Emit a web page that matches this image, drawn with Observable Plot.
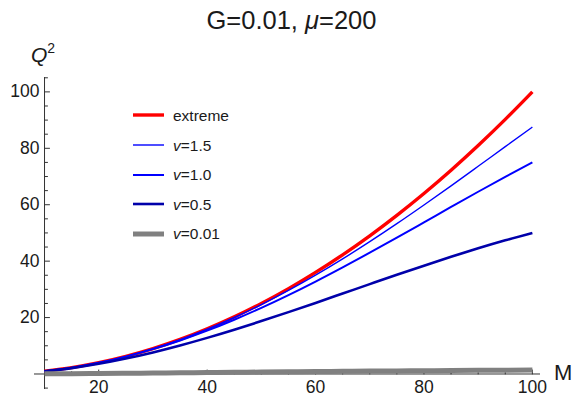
<!DOCTYPE html>
<html><head><meta charset="utf-8">
<script src="https://cdn.jsdelivr.net/npm/d3@7"></script>
<script src="https://cdn.jsdelivr.net/npm/@observablehq/plot@0.6"></script>
<style>
body{margin:0;background:#fff;}
#wrap{position:relative;width:575px;height:396px;font-family:"Liberation Sans",Arial,sans-serif;color:#1a1a1a;overflow:hidden;}
.ov{position:absolute;white-space:nowrap;line-height:1;}
#wrap svg{position:absolute;left:0;top:0;overflow:visible;}
</style></head><body><div id="wrap"></div>
<script>
// ---- data ----
const M       = [10, 15, 20, 25, 30, 35, 40, 45, 50, 55, 60, 65, 70, 75, 80, 85, 90, 95, 100];
const extreme = [1.0, 2.25, 4.0, 6.25, 9.0, 12.25, 16.0, 20.25, 25.0, 30.25, 36.0, 42.25, 49.0, 56.25, 64.0, 72.25, 81.0, 90.25, 100.0];
const v15     = [1.0, 2.25, 4.0, 6.24, 8.97, 12.18, 15.87, 20.02, 24.61, 29.62, 35.03, 40.80, 46.90, 53.28, 59.90, 66.70, 73.62, 80.58, 87.5];
const v10     = [1.0, 2.24, 3.96, 6.15, 8.80, 11.88, 15.36, 19.23, 23.44, 27.96, 32.76, 37.79, 43.0, 48.34, 53.76, 59.20, 64.60, 69.89, 75.0];
const v05     = [0.95, 2.08, 3.6, 5.47, 7.65, 10.11, 12.8, 15.69, 18.75, 21.93, 25.2, 28.52, 31.85, 35.16, 38.4, 41.54, 44.55, 47.38, 50.0];
const v001    = [0.06, 0.11, 0.18, 0.25, 0.34, 0.42, 0.51, 0.60, 0.68, 0.77, 0.86, 0.94, 1.02, 1.09, 1.16, 1.23, 1.29, 1.34, 1.38];
const seriesNames = ["extreme", "v=1.5", "v=1.0", "v=0.5", "v=0.01"];
const seriesValues = [extreme, v15, v10, v05, v001];
const xMajorTicks = [20, 40, 60, 80, 100];
const xMinorTicks = [15, 25, 30, 35, 45, 50, 55, 65, 70, 75, 85, 90, 95];
const yMajorTicks = [20, 40, 60, 80, 100];
const yMinorTicks = [-5, 5, 10, 15, 25, 30, 35, 45, 50, 55, 65, 70, 75, 85, 90, 95, 105];
const xDomain = [8.15, 101.5];
const yDomain = [-5.5, 105.1];

// ---- styles ----
const styles = [
  {stroke: "#ff0000", width: 3.4},
  {stroke: "#0000ff", width: 1.4},
  {stroke: "#0000ff", width: 2.0},
  {stroke: "#0000aa", width: 2.6},
  {stroke: "#808080", width: 5}
];
const axisColor = "#333";
const tickShape = {draw(ctx, l) { ctx.moveTo(0, 0); ctx.lineTo(0, -l); }};

const rows = [];
seriesNames.forEach((s, k) => M.forEach((m, i) => rows.push({M: m, Q2: seriesValues[k][i], s})));

const lineMarks = seriesNames.map((s, k) =>
  Plot.line(rows.filter(d => d.s === s), {
    x: "M", y: "Q2", stroke: styles[k].stroke, strokeWidth: styles[k].width,
    curve: "monotone-x", strokeLinecap: "butt", strokeLinejoin: "round"
  })
);

const chart = Plot.plot({
  width: 575, height: 396,
  marginLeft: 34, marginRight: 35, marginTop: 77, marginBottom: 7,
  x: {domain: xDomain, axis: null},
  y: {domain: yDomain, axis: null},
  style: {fontFamily: "'Liberation Sans', Arial, sans-serif", color: "#1a1a1a", background: "transparent"},
  marks: [
    Plot.ruleY([0], {stroke: axisColor, strokeWidth: 1}),
    Plot.ruleX([M[0]], {stroke: axisColor, strokeWidth: 1}),
    Plot.vector(xMajorTicks, {x: d => d, y: 0, length: 4, rotate: 0, anchor: "start", shape: tickShape, stroke: axisColor, strokeWidth: 1}),
    Plot.vector(xMinorTicks, {x: d => d, y: 0, length: 2.5, rotate: 0, anchor: "start", shape: tickShape, stroke: axisColor, strokeWidth: 1}),
    Plot.vector(yMajorTicks, {x: M[0], y: d => d, length: 5, rotate: 90, anchor: "start", shape: tickShape, stroke: axisColor, strokeWidth: 1}),
    Plot.vector(yMinorTicks, {x: M[0], y: d => d, length: 3, rotate: 90, anchor: "start", shape: tickShape, stroke: axisColor, strokeWidth: 1}),
    Plot.text(xMajorTicks, {x: d => d, y: 0, text: d => String(d), dy: 13, fontSize: 17.5, fill: "#1a1a1a"}),
    Plot.text(yMajorTicks, {x: M[0], y: d => d, text: d => String(d), dx: -5, textAnchor: "end", fontSize: 17.5, fill: "#1a1a1a"}),
    ...lineMarks
  ]
});
const wrap = document.getElementById("wrap");
wrap.appendChild(chart);

function ov(html, css) {
  const d = document.createElement("div");
  d.className = "ov";
  d.innerHTML = html;
  Object.assign(d.style, css);
  wrap.appendChild(d);
}
// title and axis labels
ov("G=0.01, <i>μ</i>=200", {left: "4px", width: "575px", textAlign: "center", top: "8px", fontSize: "25.5px"});
ov("<i>Q</i><sup style='font-size:14px;vertical-align:0;position:relative;top:-9px'>2</sup>", {left: "31px", top: "44px", fontSize: "21px"});
ov("M", {left: "554px", top: "362px", fontSize: "22px"});

// legend
const legendLabels = ["extreme", "<i>v</i>=1.5", "<i>v</i>=1.0", "<i>v</i>=0.5", "<i>v</i>=0.01"];
const legendCenters = [115, 145, 174.5, 204, 233.5];
legendLabels.forEach((lab, k) => {
  const c = legendCenters[k];
  ov(`<svg width="31" height="10" style="display:block"><line x1="0" x2="31" y1="5" y2="5" stroke="${styles[k].stroke}" stroke-width="${Math.min(styles[k].width, 5)}"/></svg>`,
     {left: "133px", top: (c - 5) + "px"});
  ov(lab, {left: "173px", top: (c - 7.5) + "px", fontSize: "15.5px"});
});
</script>
</body></html>
